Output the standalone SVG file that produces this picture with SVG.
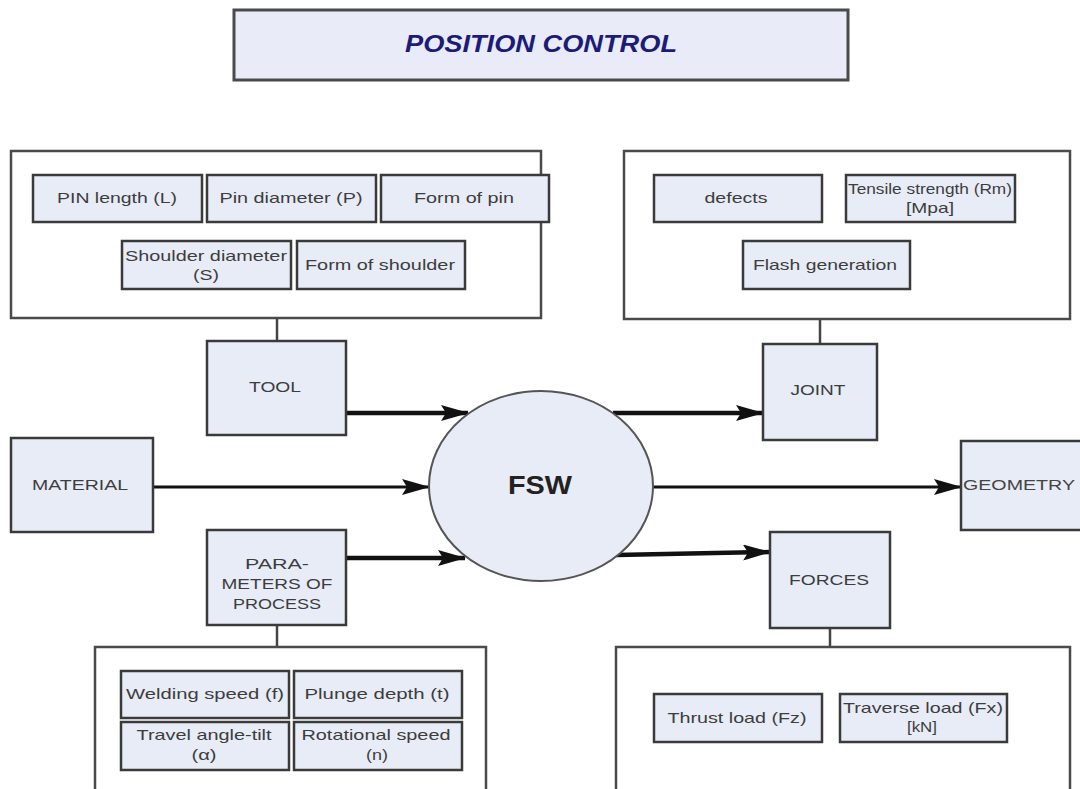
<svg xmlns="http://www.w3.org/2000/svg" width="1080" height="789" viewBox="0 0 1080 789">
<defs>
<style>
.cont{fill:#ffffff;stroke:#4a4a4a;stroke-width:2.5}
.box{fill:#e7ecf7;stroke:#3a3a3a;stroke-width:2.5}
.t{font-family:"Liberation Sans",Arial,sans-serif;font-size:15px;fill:#3d3d3d;text-anchor:middle}
.tc{font-family:"Liberation Sans",Arial,sans-serif;font-size:15.5px;fill:#3d3d3d;text-anchor:middle}
.thick{stroke:#111;stroke-width:4.5;fill:none}
.thin{stroke:#111;stroke-width:3;fill:none}
.link{stroke:#444;stroke-width:2.5;fill:none}
</style>
<marker id="ahb" markerWidth="28" markerHeight="16" refX="27" refY="8" orient="auto" markerUnits="userSpaceOnUse" viewBox="0 0 28 16">
<path d="M0,0 L28,8 L0,16 L5,8 Z" fill="#111"/>
</marker>
</defs>
<rect width="1080" height="789" fill="#ffffff"/>

<g id="title">
<rect x="234" y="10" width="614" height="70" fill="#e9ecf8" stroke="#4a4a4a" stroke-width="3"/>
<text x="541" y="52" font-family="Liberation Sans,Arial,sans-serif" font-size="24" font-weight="bold" font-style="italic" fill="#1c1c78" text-anchor="middle" textLength="272" lengthAdjust="spacingAndGlyphs">POSITION CONTROL</text>
</g>

<g id="connectors">
<line class="link" x1="277" y1="318" x2="277" y2="341"/>
<line class="link" x1="820" y1="319" x2="820" y2="344"/>
<line class="link" x1="277" y1="625" x2="277" y2="647"/>
<line class="link" x1="830" y1="628" x2="830" y2="647"/>
<line class="thick" x1="346" y1="413" x2="468" y2="413" marker-end="url(#ahb)"/>
<line class="thin" x1="153" y1="487" x2="429" y2="487" marker-end="url(#ahb)"/>
<line class="thick" x1="346" y1="558" x2="465" y2="558" marker-end="url(#ahb)"/>
<line class="thick" x1="613" y1="413" x2="763" y2="413" marker-end="url(#ahb)"/>
<line class="thin" x1="652" y1="487" x2="961" y2="487" marker-end="url(#ahb)"/>
<line class="thick" x1="616" y1="555" x2="770" y2="552" marker-end="url(#ahb)"/>
</g>

<g id="tool-group">
<rect class="cont" x="11" y="151" width="530" height="167"/>
</g>
<g id="pin-length"><rect class="box" x="33" y="175" width="169" height="47"/><text class="t" x="117" y="203" textLength="120" lengthAdjust="spacingAndGlyphs">PIN length (L)</text></g>
<g id="pin-diameter"><rect class="box" x="207" y="175" width="169" height="47"/><text class="t" x="291" y="203" textLength="143" lengthAdjust="spacingAndGlyphs">Pin diameter (P)</text></g>
<g id="form-of-pin"><rect class="box" x="381" y="175" width="168" height="47"/><text class="t" x="464" y="203" textLength="100" lengthAdjust="spacingAndGlyphs">Form of pin</text></g>
<g id="shoulder-diameter"><rect class="box" x="122" y="241" width="169" height="48"/><text class="t" x="206" y="261" textLength="162" lengthAdjust="spacingAndGlyphs">Shoulder diameter</text><text class="t" x="206" y="280" textLength="26" lengthAdjust="spacingAndGlyphs">(S)</text></g>
<g id="form-of-shoulder"><rect class="box" x="297" y="241" width="168" height="48"/><text class="t" x="380" y="270" textLength="150" lengthAdjust="spacingAndGlyphs">Form of shoulder</text></g>

<g id="joint-group">
<rect class="cont" x="624" y="151" width="446" height="168"/>
</g>
<g id="defects"><rect class="box" x="654" y="175" width="168" height="47"/><text class="t" x="736" y="203" textLength="63" lengthAdjust="spacingAndGlyphs">defects</text></g>
<g id="tensile"><rect class="box" x="846" y="175" width="169" height="47"/><text class="t" x="930" y="194" textLength="164" lengthAdjust="spacingAndGlyphs">Tensile strength (Rm)</text><text class="t" x="930" y="213" textLength="48" lengthAdjust="spacingAndGlyphs">[Mpa]</text></g>
<g id="flash"><rect class="box" x="743" y="241" width="167" height="48"/><text class="t" x="825" y="270" textLength="144" lengthAdjust="spacingAndGlyphs">Flash generation</text></g>

<g id="tool"><rect class="box" x="207" y="341" width="139" height="94"/><text class="tc" x="275" y="392" textLength="52" lengthAdjust="spacingAndGlyphs">TOOL</text></g>
<g id="joint"><rect class="box" x="763" y="344" width="114" height="96"/><text class="tc" x="818" y="395" textLength="55" lengthAdjust="spacingAndGlyphs">JOINT</text></g>
<g id="material"><rect class="box" x="11" y="438" width="142" height="94"/><text class="tc" x="80" y="490" textLength="96" lengthAdjust="spacingAndGlyphs">MATERIAL</text></g>
<g id="fsw"><ellipse cx="541" cy="486" rx="112" ry="95" fill="#e7ecf7" stroke="#555" stroke-width="2"/><text x="540" y="494" font-family="Liberation Sans,Arial,sans-serif" font-size="25" font-weight="bold" fill="#222" text-anchor="middle" textLength="64" lengthAdjust="spacingAndGlyphs">FSW</text></g>
<g id="geometry"><rect class="box" x="961" y="441" width="121" height="89"/><text x="963" y="490" font-family="Liberation Sans,Arial,sans-serif" font-size="15" fill="#444" textLength="112" lengthAdjust="spacingAndGlyphs">GEOMETRY</text></g>
<g id="parameters"><rect class="box" x="207" y="530" width="139" height="95"/><text class="tc" x="277" y="569" textLength="64" lengthAdjust="spacingAndGlyphs">PARA-</text><text class="tc" x="277" y="589" textLength="111" lengthAdjust="spacingAndGlyphs">METERS OF</text><text class="tc" x="277" y="609" textLength="88" lengthAdjust="spacingAndGlyphs">PROCESS</text></g>
<g id="forces"><rect class="box" x="770" y="532" width="120" height="96"/><text class="tc" x="829" y="585" textLength="80" lengthAdjust="spacingAndGlyphs">FORCES</text></g>

<g id="process-group">
<rect class="cont" x="95" y="647" width="391" height="150"/>
</g>
<g id="welding-speed"><rect class="box" x="121" y="671" width="168" height="47"/><text class="t" x="205" y="699" textLength="158" lengthAdjust="spacingAndGlyphs">Welding speed (f)</text></g>
<g id="plunge-depth"><rect class="box" x="294" y="671" width="168" height="47"/><text class="t" x="377" y="699" textLength="145" lengthAdjust="spacingAndGlyphs">Plunge depth (t)</text></g>
<g id="travel-angle"><rect class="box" x="121" y="722" width="168" height="48"/><text class="t" x="204" y="740" textLength="135" lengthAdjust="spacingAndGlyphs">Travel angle-tilt</text><text class="t" x="204" y="760" textLength="25" lengthAdjust="spacingAndGlyphs">(α)</text></g>
<g id="rotational-speed"><rect class="box" x="294" y="722" width="168" height="48"/><text class="t" x="376" y="740" textLength="149" lengthAdjust="spacingAndGlyphs">Rotational speed</text><text class="t" x="377" y="760" textLength="22" lengthAdjust="spacingAndGlyphs">(n)</text></g>

<g id="forces-group">
<rect class="cont" x="616" y="647" width="454" height="150"/>
</g>
<g id="thrust"><rect class="box" x="654" y="694" width="168" height="48"/><text class="t" x="737" y="723" textLength="139" lengthAdjust="spacingAndGlyphs">Thrust load (Fz)</text></g>
<g id="traverse"><rect class="box" x="840" y="694" width="167" height="48"/><text class="t" x="923" y="713" textLength="160" lengthAdjust="spacingAndGlyphs">Traverse load (Fx)</text><text class="t" x="922" y="732" textLength="30" lengthAdjust="spacingAndGlyphs">[kN]</text></g>
</svg>
